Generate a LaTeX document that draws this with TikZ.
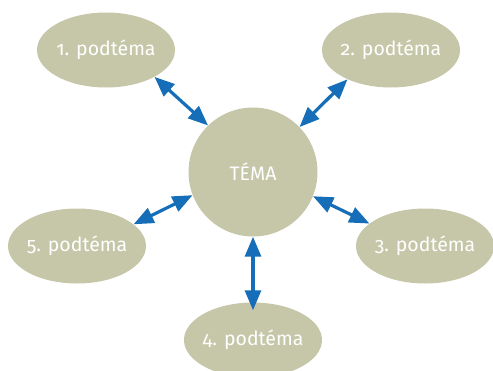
\documentclass[tikz,border=0pt]{standalone}
\usepackage{fontspec}
\setmainfont[Numbers=OldStyle]{Fira Sans}
\usetikzlibrary{arrows.meta,shapes.geometric}
\definecolor{olivegrey}{RGB}{197,199,168}
\definecolor{arrowblue}{RGB}{22,110,185}
\begin{document}
\begin{tikzpicture}[x=1pt,y=-1pt,
  sub/.style={ellipse,fill=olivegrey,minimum width=138pt,minimum height=75pt,inner xsep=-20pt,inner ysep=0pt,text=white,font=\fontsize{19.5}{23}\selectfont},
  main/.style={circle,fill=olivegrey,minimum size=129pt,inner sep=0pt,text=white,font=\fontsize{19.5}{23}\selectfont},
  link/.style={arrowblue,line width=3.2pt,{Triangle[length=20pt,width=16pt]}-{Triangle[length=20pt,width=16pt]}}]
\useasboundingbox (0,0) rectangle (493,370);
\node[main] (c) at (253,172) {TÉMA};
\node[sub] (e1) at (106,50) {1. podtéma};
\node[sub] (e2) at (391,50) {2. podtéma};
\node[sub] (e3) at (425,246) {3. podtéma};
\node[sub] (e4) at (253,340) {4. podtéma};
\node[sub] (e5) at (77,246) {5. podtéma};
\draw[link] (e1.-29) -- (c.134);
\draw[link] (e2.214) -- (c.44);
\draw[link] (c.-22) -- (e3.158);
\draw[link,shorten >=-8pt] (c.-90) -- (e4.90);
\draw[link] (e5.21) -- (c.201);
\end{tikzpicture}
\end{document}
